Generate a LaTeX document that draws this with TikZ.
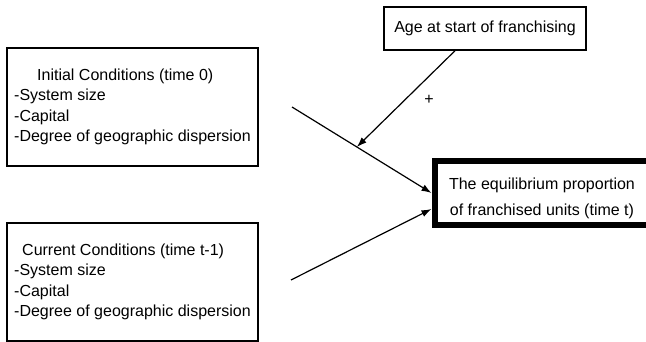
\documentclass[tikz,border=0pt]{standalone}
\usepackage{fontspec}
\setmainfont{Liberation Sans}
\usetikzlibrary{arrows.meta,calc}
\begin{document}
\begin{tikzpicture}[x=1pt,y=-1pt,
  condbox/.style={draw, line width=1.5pt, minimum width=251pt, minimum height=118pt, align=left, inner sep=0pt, font=\fontsize{16}{20.5}\selectfont},
  agebox/.style={draw, line width=1.5pt, minimum width=202pt, minimum height=43pt, inner sep=0pt, font=\fontsize{16}{20}\selectfont},
  eqbox/.style={draw, line width=6pt, minimum width=215pt, minimum height=64pt, inner sep=0pt, text height=0pt, text depth=6pt, font=\fontsize{16}{20}\selectfont},
  conn/.style={line width=1.2pt, -{Latex[length=10pt,width=7pt]}}]
\useasboundingbox (0,0) rectangle (646,342);
\node[condbox] (init) at (132.5,107) {\hspace*{23pt}Initial Conditions (time 0)\\-System size\\-Capital\\-Degree of geographic dispersion};
\node[condbox] (curr) at (132.5,282) {\hspace*{8pt}Current Conditions (time t-1)\\-System size\\-Capital\\-Degree of geographic dispersion};
\node[agebox] (age) at (485,28.5) {Age at start of franchising};
\node[eqbox] (eq) at (542,193) {\renewcommand\arraystretch{1.3}\begin{tabular}[t]{@{}c@{}}The equilibrium proportion\\of franchised units (time t)\end{tabular}};
\coordinate (s1) at (292,107);
\coordinate (s2) at (291,280);
\coordinate (m) at ($(s1)!0.465!(eq.west)$);
\draw[conn] (s1) -- (eq.west);
\draw[conn] (s2) -- ([yshift=-16pt]eq.west);
\draw[conn] ([xshift=-30pt]age.south) -- (m);
\node[font=\fontsize{16}{18}\selectfont] (plus) at (429,100) {+};
\end{tikzpicture}
\end{document}
